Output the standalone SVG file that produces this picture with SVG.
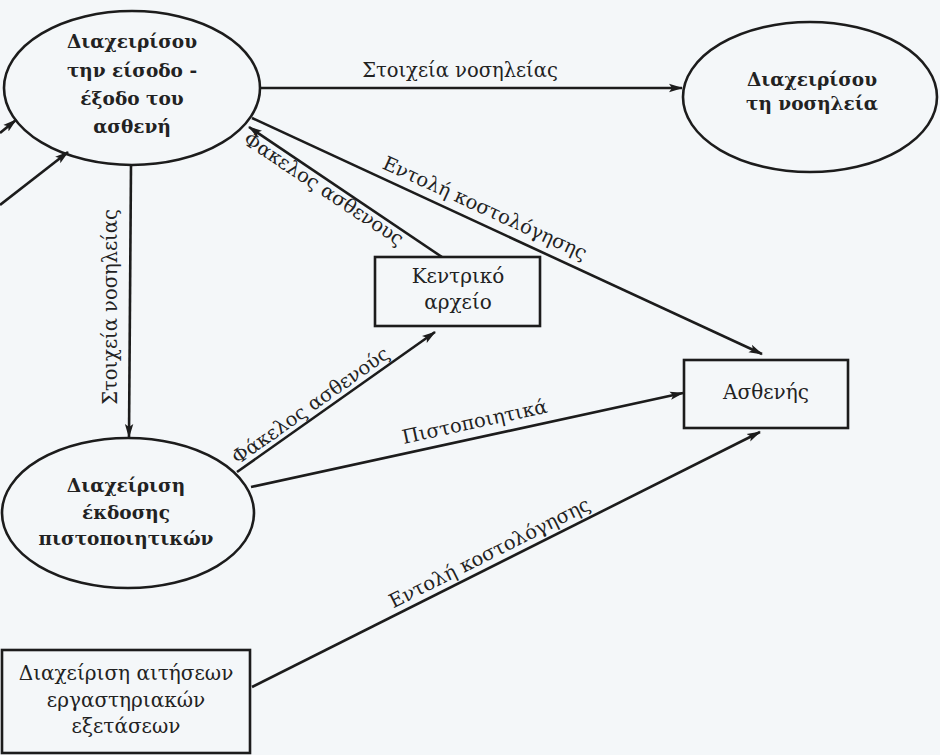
<svg xmlns="http://www.w3.org/2000/svg" width="940" height="755" viewBox="0 0 940 755">
  <defs>
    <marker id="arrow" viewBox="0 0 14 10" refX="13" refY="5" markerWidth="14" markerHeight="10" markerUnits="userSpaceOnUse" orient="auto">
      <path d="M0,0.8 L14,5 L0,9.2 L3,5 Z" fill="#1c1c1c"/>
    </marker>
  </defs>
  <style>
    text { font-family: "DejaVu Serif", serif; fill: #222; text-anchor: middle; }
    .shape { fill: none; stroke: #1c1c1c; stroke-width: 2.6; }
    .flow { fill: none; stroke: #1c1c1c; stroke-width: 2.6; marker-end: url(#arrow); }
    .proc { font-weight: bold; font-size: 18.5px; }
    .ent { font-size: 20px; }
    .lbl { font-size: 19.5px; }
  </style>

  <rect x="0" y="0" width="940" height="755" fill="#f4f7f9"/>

  <!-- processes -->
  <g id="admission">
    <ellipse class="shape" cx="132" cy="88" rx="128" ry="77"/>
    <text class="proc" x="132" y="48">Διαχειρίσου</text>
    <text class="proc" x="132" y="77">την είσοδο -</text>
    <text class="proc" x="132" y="105">έξοδο του</text>
    <text class="proc" x="132" y="133">ασθενή</text>
  </g>

  <g id="hospitalisation">
    <ellipse class="shape" cx="810" cy="97" rx="127" ry="75"/>
    <text class="proc" x="812" y="86">Διαχειρίσου</text>
    <text class="proc" x="812" y="110">τη νοσηλεία</text>
  </g>

  <g id="certificates">
    <ellipse class="shape" cx="128" cy="513" rx="126" ry="75"/>
    <text class="proc" x="126" y="492">Διαχείριση</text>
    <text class="proc" x="126" y="519">έκδοσης</text>
    <text class="proc" x="126" y="545">πιστοποιητικών</text>
  </g>

  <!-- external entities and store -->
  <g id="archive">
    <rect class="shape" x="375" y="257" width="165" height="69"/>
    <text class="ent" x="458" y="283">Κεντρικό</text>
    <text class="ent" x="458" y="309">αρχείο</text>
  </g>

  <g id="patient">
    <rect class="shape" x="684" y="360" width="164" height="68"/>
    <text class="ent" x="766" y="399">Ασθενής</text>
  </g>

  <g id="lab-requests">
    <rect class="shape" x="2" y="650" width="248" height="103"/>
    <text class="ent" x="126" y="680">Διαχείριση αιτήσεων</text>
    <text class="ent" x="126" y="707">εργαστηριακών</text>
    <text class="ent" x="126" y="733">εξετάσεων</text>
  </g>

  <!-- data flows -->
  <g id="connectors">
    <line class="flow" x1="0" y1="133" x2="16" y2="120"/>
    <line class="flow" x1="0" y1="205" x2="68" y2="152"/>

    <line class="flow" x1="260" y1="88" x2="682" y2="88"/>
    <text class="lbl" x="460" y="77">Στοιχεία νοσηλείας</text>

    <line class="flow" x1="131" y1="165" x2="129" y2="437"/>
    <text class="lbl" transform="translate(130,307) rotate(-90)" x="0" y="-13">Στοιχεία νοσηλείας</text>

    <line class="flow" x1="442" y1="257" x2="249" y2="127"/>
    <text class="lbl" transform="translate(329,181) rotate(33.6)" x="0" y="16">Φακελος ασθενους</text>

    <line class="flow" x1="252" y1="118" x2="762" y2="354"/>
    <text class="lbl" transform="translate(478,223) rotate(24.5)" x="0" y="-10">Εντολή κοστολόγησης</text>

    <line class="flow" x1="237" y1="472" x2="435" y2="332"/>
    <text class="lbl" transform="translate(317,415) rotate(-35.3)" x="0" y="-5">Φάκελος ασθενούς</text>

    <line class="flow" x1="251" y1="487" x2="683" y2="393"/>
    <text class="lbl" transform="translate(478,437) rotate(-12.3)" x="0" y="-9">Πιστοποιητικά</text>

    <line class="flow" x1="252" y1="687" x2="760" y2="432"/>
    <text class="lbl" transform="translate(400,613) rotate(-26.7)" x="-4" y="-7" style="text-anchor:start">Εντολή κοστολόγησης</text>
  </g>
</svg>
